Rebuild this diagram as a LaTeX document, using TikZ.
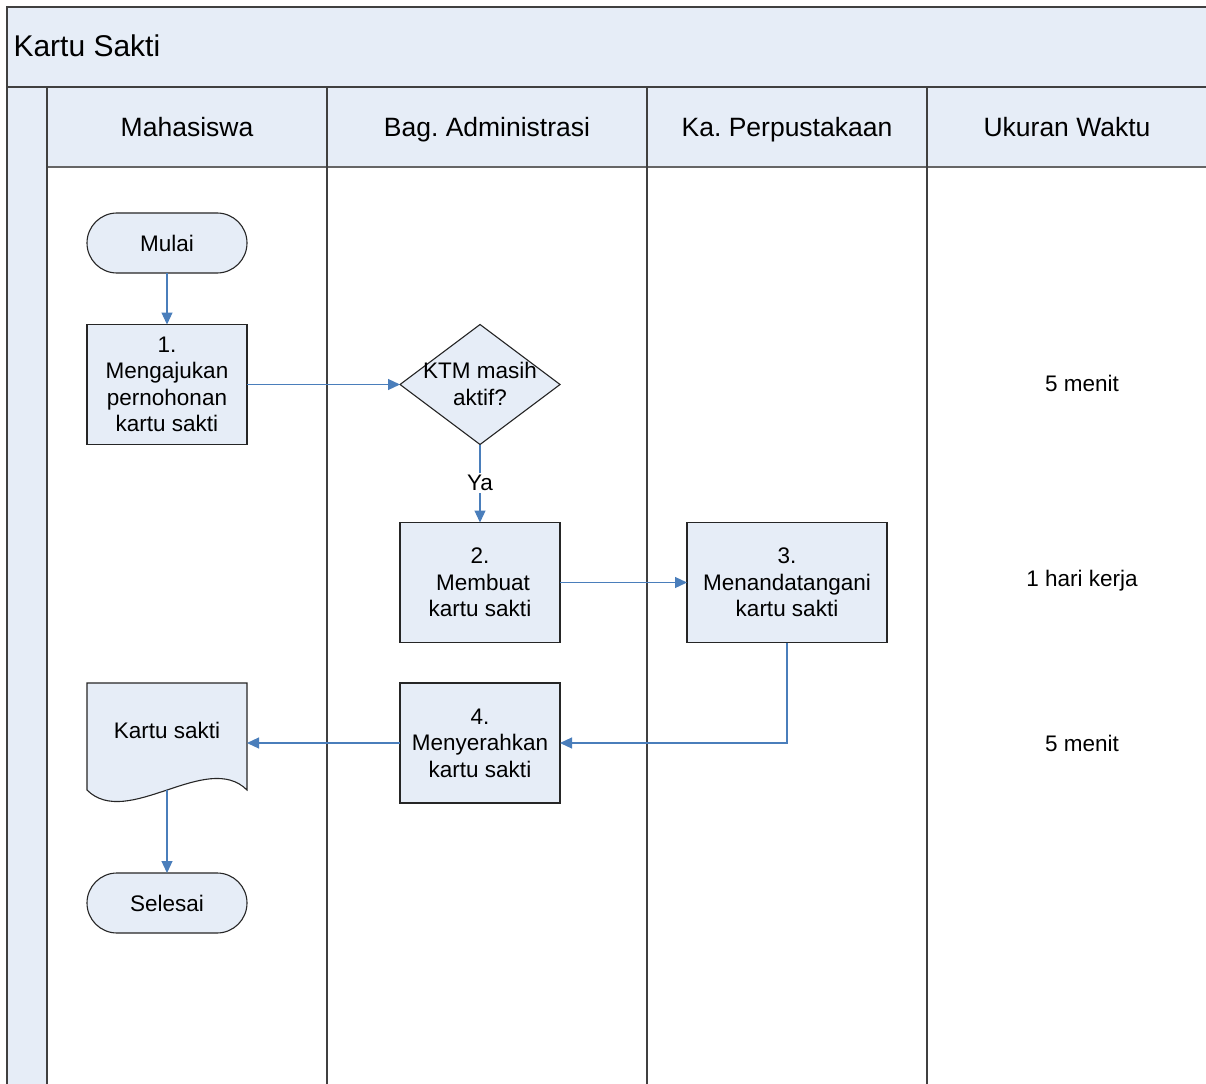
\documentclass[tikz,border=0pt]{standalone}
\usepackage{fontspec}
\setmainfont{Liberation Sans}
\usetikzlibrary{shapes.geometric,arrows.meta}
\frenchspacing
\definecolor{lanefill}{HTML}{E6EDF7}
\definecolor{flowblue}{HTML}{4A7EBB}
\definecolor{frameline}{HTML}{404040}
\tikzset{
  body/.style={font=\fontsize{22.5}{26.5}\selectfont},
  headtext/.style={font=\fontsize{26.5}{30}\selectfont, anchor=base},
  shapeline/.style={draw=black!85, fill=lanefill, line width=1.1pt},
  procbox/.style={shapeline, rectangle, minimum width=160pt, minimum height=120pt,
    inner sep=0pt, outer sep=0pt, align=center, body},
  term/.style={shapeline, rectangle, rounded corners=30pt, minimum width=160pt,
    minimum height=60pt, inner sep=0pt, outer sep=0pt, body},
  decision/.style={shapeline, diamond, minimum width=160pt, minimum height=120pt,
    inner sep=0pt, outer sep=0pt},
  timetext/.style={body, anchor=base},
  flow/.style={draw=flowblue, line width=1.2pt, -{Triangle[length=12pt,width=11pt]}},
  laneline/.style={draw=frameline, line width=2pt},
}
\begin{document}
\begin{tikzpicture}[x=1pt, y=-1pt]
\useasboundingbox (0,0) rectangle (1206,1083);
\clip (0,0) rectangle (1206,1083);
\fill[white] (0,0) rectangle (1206,1083);

% pool frame: title band, side strip, lane header row
\path[laneline, fill=lanefill] (7,7) rectangle (1230,87);
\path[laneline, fill=lanefill] (7,87) rectangle (47,1100);
\path[fill=lanefill] (47,87) rectangle (1230,167);
\draw[draw=frameline!80, line width=1.6pt] (47,167) -- (1230,167);
\foreach \lx in {47,327,647,927}
  \draw[laneline] (\lx,87) -- (\lx,1100);
\draw[laneline] (7,87) -- (1230,87);

\node[font=\fontsize{30}{34}\selectfont, anchor=base west] (title) at (10,57) {Kartu Sakti};

\node[headtext] (h1) at (187,137) {Mahasiswa};
\node[headtext] (h2) at (487,137) {Bag. Administrasi};
\node[headtext] (h3) at (787,137) {Ka. Perpustakaan};
\node[headtext] (h4) at (1067,137) {Ukuran Waktu};

% flow shapes
\node[term] (start) at (167,243) {Mulai};
\node[procbox] (s1) at (167,384.5) {1.\\Mengajukan\\pernohonan\\kartu sakti};
\node[decision] (dec) at (480,384.5) {};
\node[body, align=center] (dectext) at (480,384) {KTM masih\\aktif?};
\node[procbox] (s2) at (480,582.5) {2.\\\hspace*{6pt}Membuat\\kartu sakti};
\node[procbox, minimum width=200pt] (s3) at (787,582.5) {3.\\Menandatangani\\kartu sakti};
\node[procbox] (s4) at (480,743) {4.\\Menyerahkan\\kartu sakti};

% document symbol
\node[inner sep=0pt, outer sep=0pt, minimum width=160pt, minimum height=107pt] (doc) at (167,736.5) {};
\path[shapeline] (doc.north west) -- (doc.north east) -- (doc.south east)
  .. controls (207,750) and (127,830) .. (doc.south west) -- cycle;
\node[body] (doctext) at (167,730) {Kartu sakti};

\node[term] (stop) at (167,903) {Selesai};

% time column
\node[timetext] (t1) at (1082,391) {5 menit};
\node[timetext] (t2) at (1082,586) {1 hari kerja};
\node[timetext] (t3) at (1082,751) {5 menit};

% connectors
\draw[flow] (start) -- (s1);
\draw[flow] (s1.east) -- (dec.west);
\draw[flow] (dec.south) -- (s2.north);
\node[body, fill=white, inner sep=2pt] (ya) at (480,483) {Ya};
\draw[flow] (s2.east) -- (s3.west);
\draw[flow] (s3.south) |- (s4.east);
\draw[flow] (s4.west) -- (s4.west -| doc.east);
\draw[flow] (doc.south) -- (stop.north);
\end{tikzpicture}
\end{document}
